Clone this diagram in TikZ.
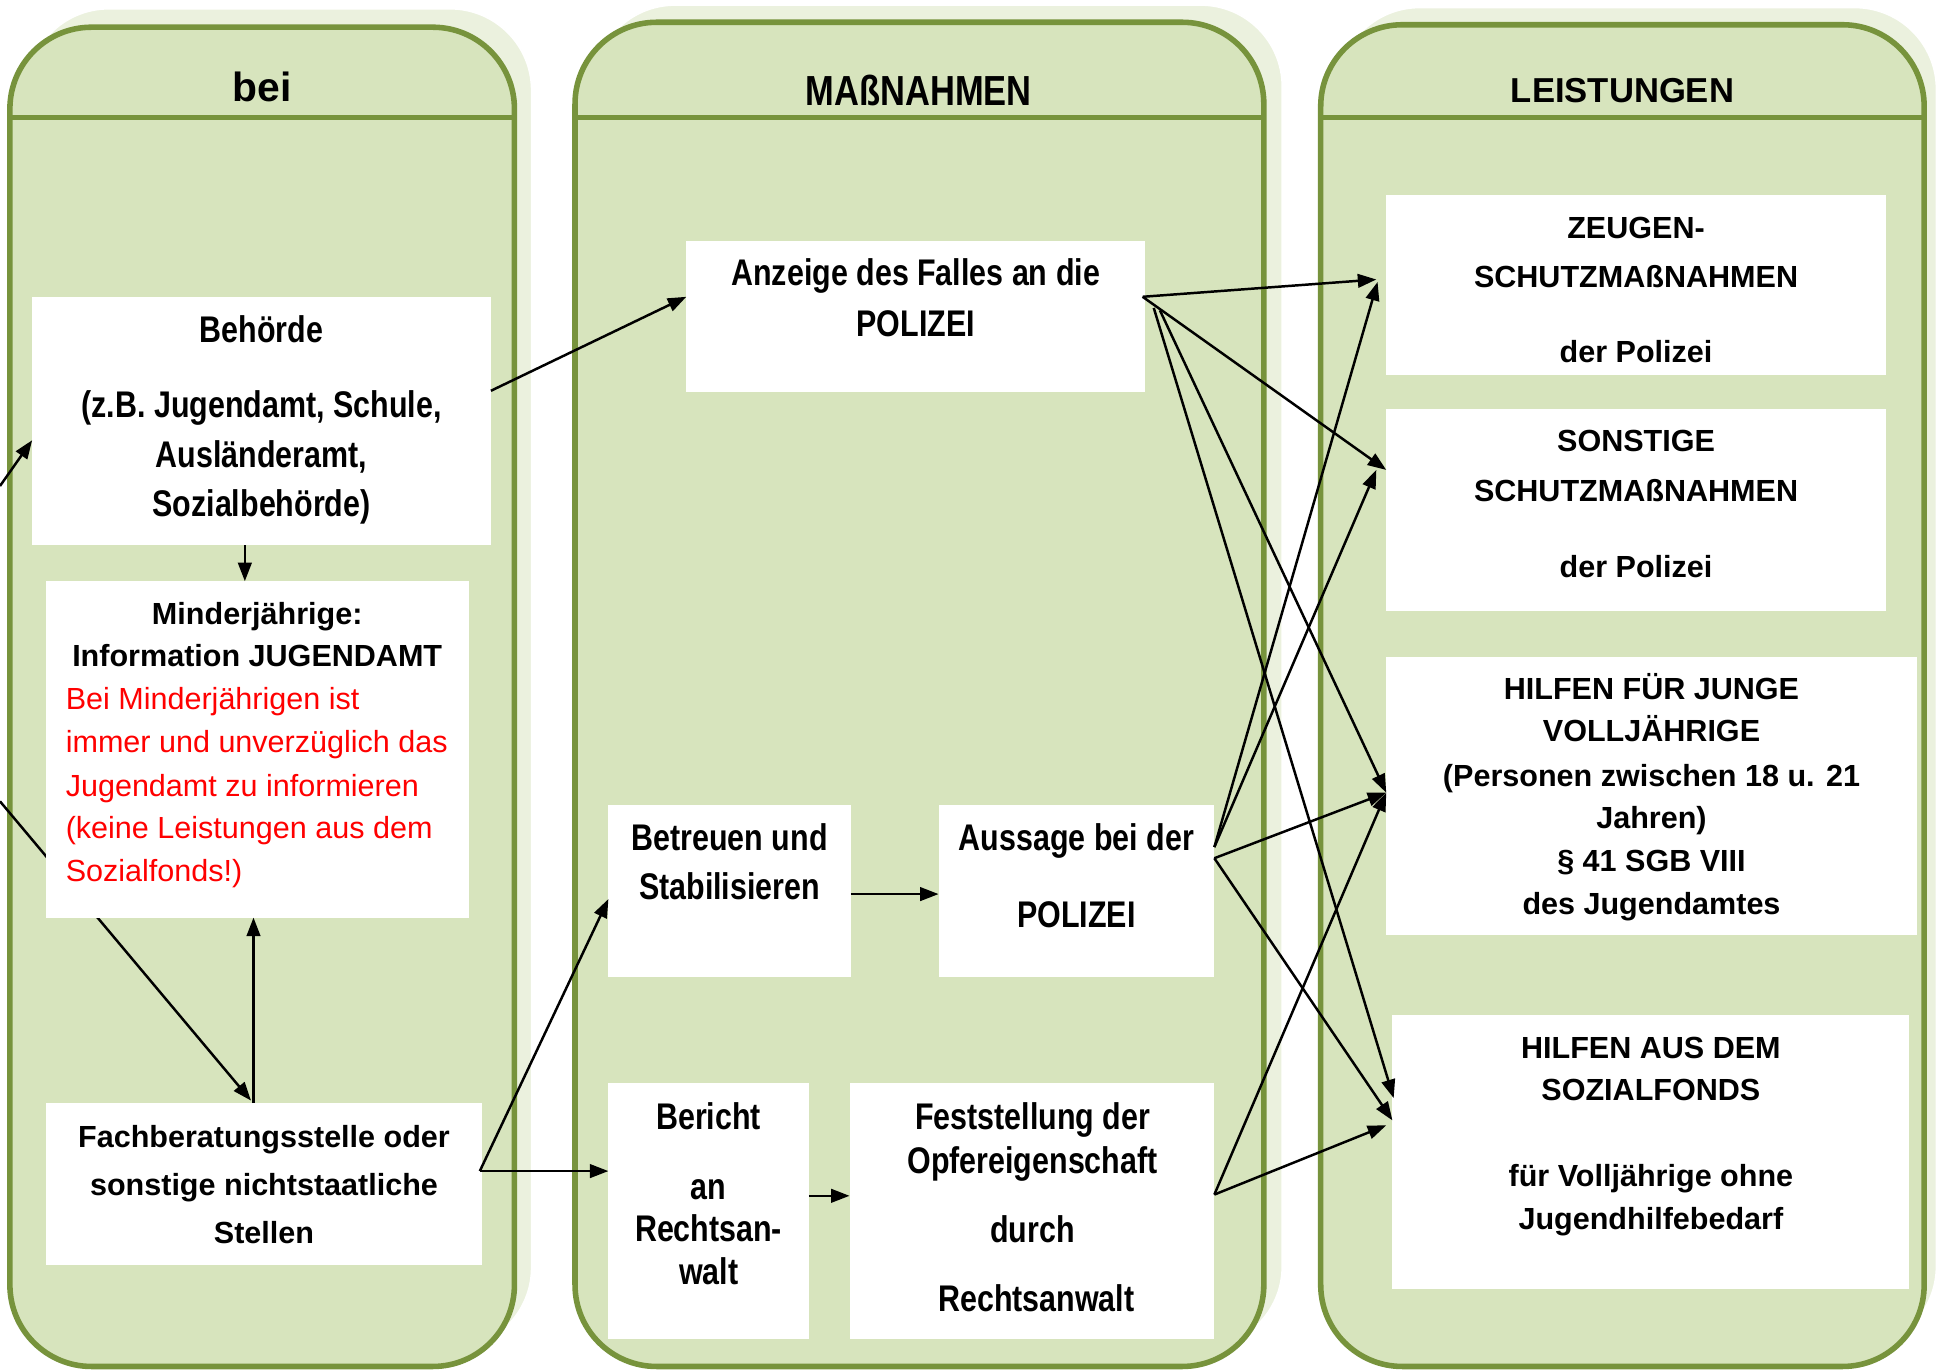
\documentclass[tikz,border=0pt]{standalone}
\usepackage{fontspec}
\setmainfont{Liberation Sans}
\newfontfamily\narrowfont[FakeStretch=0.82]{Liberation Sans}
\usetikzlibrary{arrows.meta,calc}
\pgfdeclarelayer{colbg}
\pgfdeclarelayer{mid}
\pgfsetlayers{colbg,mid,main}
\definecolor{colborder}{HTML}{77933C}
\definecolor{colfill}{HTML}{D7E4BD}
\definecolor{colshadow}{HTML}{EBF1DE}
\definecolor{redtext}{HTML}{FF0000}
\begin{document}
\begin{tikzpicture}[x=1pt,y=-1pt,
  box/.style={fill=white, inner sep=0pt, outer sep=0pt, draw=none},
  nb/.style={font=\narrowfont\bfseries\fontsize{30}{36}\selectfont, inner sep=0pt, text height=21.5pt, text depth=0pt},
  rb/.style={font=\bfseries\fontsize{24.7}{30}\selectfont, inner sep=0pt, text height=17.7pt, text depth=0pt},
  rr/.style={font=\fontsize{24.7}{30}\selectfont, text=redtext, inner sep=0pt, text height=17.7pt, text depth=0pt, anchor=west},
  conn/.style={draw=black, line width=2pt, -{Triangle[length=15pt,width=11pt]}},
  colframe/.style={draw=colborder, line width=4.5pt, fill=colfill, rounded corners=66pt},
  colshadowst/.style={fill=colshadow, draw=white, line width=1.5pt, rounded corners=66pt},
  headline/.style={draw=colborder, line width=4.5pt},
]
\useasboundingbox (0,0) rectangle (1568,1109);

% columns
\begin{pgfonlayer}{colbg}
  \fill[white] (0,0) rectangle (1568,1109);
  \draw[colshadowst] (22,7) rectangle (430,1091);
  \draw[colframe] (8,22) rectangle (416,1105);
  \draw[headline] (8,95) -- (416,95);
  \draw[colshadowst] (480,4) rectangle (1037,1090);
  \draw[colframe] (465,18) rectangle (1022,1105);
  \draw[headline] (465,95) -- (1022,95);
  \draw[colshadowst] (1082,6) rectangle (1566,1090);
  \draw[colframe] (1068,20) rectangle (1556,1105);
  \draw[headline] (1068,95) -- (1556,95);
\end{pgfonlayer}

% headers
\node[font=\bfseries\fontsize{33}{40}\selectfont, inner sep=0pt, text height=23.6pt, text depth=0pt] (hbei) at (212,70) {bei};
\node[font=\narrowfont\bfseries\fontsize{34}{40}\selectfont, inner sep=0pt, text height=24.3pt, text depth=0pt] (hmass) at (743,73) {MAßNAHMEN};
\node[font=\bfseries\fontsize{28}{34}\selectfont, inner sep=0pt, text height=20pt, text depth=0pt] (hleist) at (1312,73) {LEISTUNGEN};

% boxes
\node[box, minimum width=371pt, minimum height=201pt] (behoerde) at (211.5,340.5) {};
\node[box, minimum width=342pt, minimum height=272pt] (minder) at (208,606) {};
\node[box, minimum width=353pt, minimum height=131pt] (fach) at (213.5,957.5) {};
\node[box, minimum width=371pt, minimum height=122pt] (anzeige) at (740.5,256) {};
\node[box, minimum width=196pt, minimum height=139pt] (betreuen) at (590,720.5) {};
\node[box, minimum width=223pt, minimum height=139pt] (aussage) at (870.5,720.5) {};
\node[box, minimum width=162pt, minimum height=207pt] (bericht) at (573,979.5) {};
\node[box, minimum width=295pt, minimum height=207pt] (fest) at (834.5,979.5) {};
\node[box, minimum width=404pt, minimum height=145pt] (zeugen) at (1323,230.5) {};
\node[box, minimum width=404pt, minimum height=163pt] (sonst) at (1323,412.5) {};
\node[box, minimum width=429pt, minimum height=225pt] (junge) at (1335.5,643.5) {};
\node[box, minimum width=418pt, minimum height=221pt] (sozial) at (1335,931.5) {};

% texts
\node[nb] (tb1) at (211.5,266) {Behörde};
\node[nb] (tb2) at (211.5,327) {(z.B. Jugendamt, Schule,};
\node[nb] (tb3) at (211.5,367) {Ausländeramt,};
\node[nb] (tb4) at (211.5,407) {Sozialbehörde)};

\node[rb] (tm1) at (208,496) {Minderjährige:};
\node[rb] (tm2) at (208,530) {Information JUGENDAMT};
\node[rr] (tr1) at (53,565) {Bei Minderjährigen ist};
\node[rr] (tr2) at (53,600) {immer und unverzüglich das};
\node[rr] (tr3) at (53,635) {Jugendamt zu informieren};
\node[rr] (tr4) at (53,669) {(keine Leistungen aus dem};
\node[rr] (tr5) at (53,704) {Sozialfonds!)};

\node[rb] (tf1) at (213.5,919) {Fachberatungsstelle oder};
\node[rb] (tf2) at (213.5,958) {sonstige nichtstaatliche};
\node[rb] (tf3) at (213.5,997) {Stellen};

\node[nb] (ta1) at (740.5,220) {Anzeige des Falles an die};
\node[nb] (ta2) at (740.5,261) {POLIZEI};

\node[nb] (tbe1) at (590,677) {Betreuen und};
\node[nb] (tbe2) at (590,717) {Stabilisieren};

\node[nb] (tau1) at (870.5,677) {Aussage bei der};
\node[nb] (tau2) at (870.5,739) {POLIZEI};

\node[nb] (tbr1) at (573,903) {Bericht};
\node[nb] (tbr2) at (573,959) {an};
\node[nb] (tbr3) at (573,993) {Rechtsan-};
\node[nb] (tbr4) at (573,1028) {walt};

\node[nb] (tfe1) at (835,903) {Feststellung der};
\node[nb] (tfe2) at (835,938) {Opfereigenschaft};
\node[nb] (tfe3) at (835,994) {durch};
\node[nb] (tfe4) at (838,1050) {Rechtsanwalt};

\node[rb] (tz1) at (1323,184) {ZEUGEN-};
\node[rb] (tz2) at (1323,224) {SCHUTZMAßNAHMEN};
\node[rb] (tz3) at (1323,284) {der Polizei};

\node[rb] (ts1) at (1323,356) {SONSTIGE};
\node[rb] (ts2) at (1323,397) {SCHUTZMAßNAHMEN};
\node[rb] (ts3) at (1323,458) {der Polizei};

\node[rb] (tj1) at (1335.5,557) {HILFEN FÜR JUNGE};
\node[rb] (tj2) at (1335.5,591) {VOLLJÄHRIGE};
\node[rb] (tj3) at (1335.5,627) {(Personen zwischen 18 u. 21};
\node[rb] (tj4) at (1335.5,661) {Jahren)};
\node[rb] (tj5) at (1335.5,696) {§ 41 SGB VIII};
\node[rb] (tj6) at (1335.5,731) {des Jugendamtes};

\node[rb] (tso1) at (1335,847) {HILFEN AUS DEM};
\node[rb] (tso2) at (1335,881) {SOZIALFONDS};
\node[rb] (tso3) at (1335,951) {für Volljährige ohne};
\node[rb] (tso4) at (1335,985) {Jugendhilfebedarf};

% free ends
\coordinate (inL1) at (0,393);
\coordinate (inL2) at (0,648);

% connector hidden behind the Minderjaehrige box
\begin{pgfonlayer}{mid}
  \draw[conn] (inL2) -- ([shift={(-10.5pt,2pt)}]fach.north);
\end{pgfonlayer}

% left column connectors
\draw[conn] (inL1) -- ([yshift=-15.5pt]behoerde.west);
\draw[conn] ([xshift=-13.5pt]behoerde.south) -- ([xshift=-10pt]minder.north);
\draw[conn] ([xshift=-8.5pt]fach.north) -- ([xshift=-3pt]minder.south);
\draw[conn] ([yshift=24.5pt]behoerde.east) -- ([yshift=16pt]anzeige.west);
\draw[conn] ([shift={(-2pt,10.5pt)}]fach.east) -- ([yshift=-6.5pt]betreuen.west);
\draw[conn] ([shift={(-2pt,10.5pt)}]fach.east) -- ([yshift=32.5pt]bericht.west);

% middle column connectors
\draw[conn] ([yshift=-2.5pt]betreuen.east) -- ([yshift=-2.5pt]aussage.west);
\draw[conn] ([yshift=12.5pt]bericht.east) -- ([yshift=12.5pt]fest.west);

% to the right column
\draw[conn] ([shift={(-2pt,16pt)}]anzeige.east) -- ([shift={(-8pt,4.5pt)}]zeugen.west);
\draw[conn] ([shift={(-2pt,16pt)}]anzeige.east) -- ([yshift=32.5pt]sonst.west);
\draw[conn] ([shift={(7pt,7pt)}]anzeige.east) -- ([shift={(1pt,43.5pt)}]sozial.west);
\draw[conn] ([shift={(12pt,5pt)}]anzeige.east) -- ([yshift=2.5pt]junge.west);

\draw[conn] ([yshift=35.5pt]aussage.east) -- ([shift={(-7pt,2.5pt)}]zeugen.west);
\draw[conn] ([yshift=35.5pt]aussage.east) -- ([shift={(-8pt,32.5pt)}]sonst.west);
\draw[conn] ([yshift=26.5pt]aussage.east) -- ([yshift=2.5pt]junge.west);
\draw[conn] ([yshift=26.5pt]aussage.east) -- ([yshift=25.5pt]sozial.west);

\draw[conn] ([yshift=13.5pt]fest.east) -- ([yshift=2.5pt]junge.west);
\draw[conn] ([yshift=13.5pt]fest.east) -- ([shift={(-5pt,21.5pt)}]sozial.west);
\end{tikzpicture}
\end{document}
